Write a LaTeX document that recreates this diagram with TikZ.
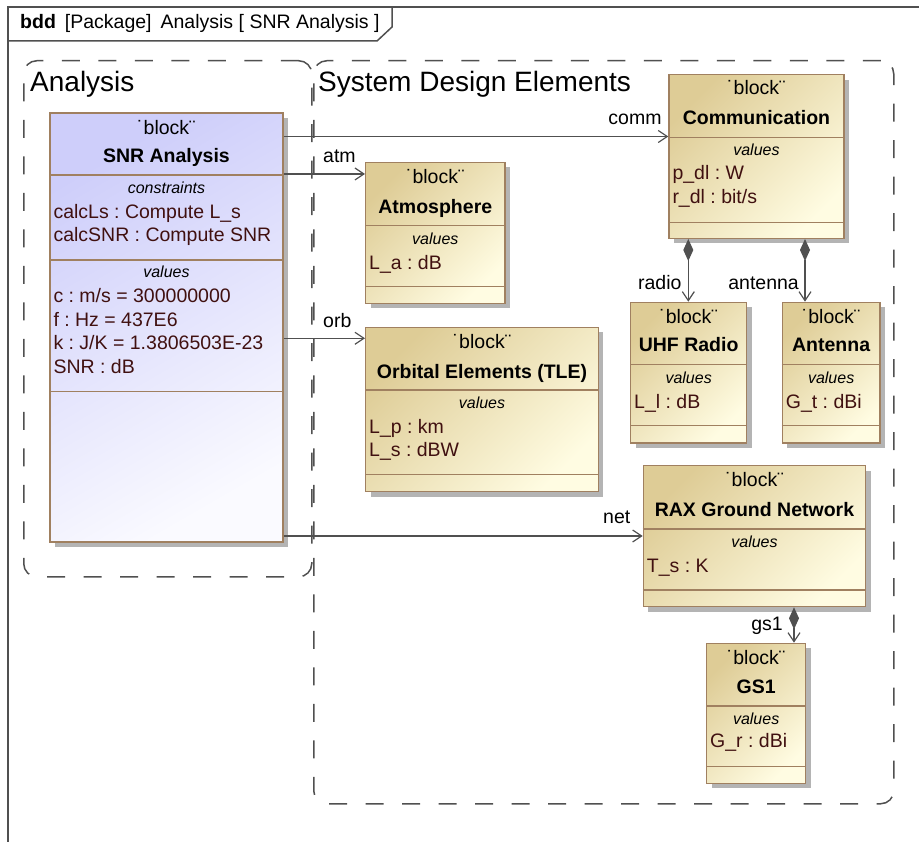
\documentclass[tikz,border=0pt]{standalone}
\usepackage{fontspec}
\setmainfont{Liberation Sans}
\usetikzlibrary{arrows.meta,shadows}
\definecolor{bordc}{RGB}{160,128,96}
\definecolor{snrA}{RGB}{206,206,250}
\definecolor{snrB}{RGB}{250,250,255}
\definecolor{yelA}{RGB}{222,204,150}
\definecolor{yelB}{RGB}{255,252,226}
\definecolor{featc}{RGB}{64,16,16}
\definecolor{linec}{RGB}{80,80,80}
\definecolor{shadc}{RGB}{180,180,180}
\newcommand\bodyf{\fontsize{19.5}{23.5}\selectfont}
\newcommand\titlef{\fontsize{16}{19}\selectfont}
\newcommand\pkgf{\fontsize{28}{33}\selectfont}
\newcommand\mkblk[6]{\node[blk,#2,minimum width={#5-#3},minimum height={#6-#4}] (#1) at (#3,#4) {};}
\newcommand\sepl[2]{\draw[sepline] (#1.west |- 0,#2) -- (#1.east |- 0,#2);}
\newcommand\ster[2]{\node[stereo] at (#1.north |- 0,#2) {˙block¨};}
\newcommand\bnm[3]{\node[bname] at (#1.north |- 0,#2) {#3};}
\newcommand\ctl[3]{\node[ctitle] at (#1.north |- 0,#2) {#3};}
\newcommand\ft[3]{\node[feat] at (#1.west |- 0,#2) {#3};}
\tikzset{
  blk/.style={draw=bordc, line width=1.3pt, anchor=north west, inner sep=0pt,
    drop shadow={shadow xshift=5pt, shadow yshift=-5pt, fill=shadc, opacity=1}},
  blue/.style={top color=snrA, bottom color=snrB, shading angle=30},
  yel/.style={top color=yelA, bottom color=yelB, shading angle=45},
  sepline/.style={draw=bordc, line width=1.3pt},
  stereo/.style={anchor=base, inner sep=0pt, font=\bodyf},
  bname/.style={anchor=base, inner sep=0pt, font=\bodyf\bfseries},
  ctitle/.style={anchor=base, inner sep=0pt, font=\titlef\itshape},
  feat/.style={anchor=base west, inner sep=0pt, xshift=4pt, font=\bodyf, text=featc},
  conn/.style={draw=linec, line width=1.2pt},
  arr/.style={-{Straight Barb[length=9pt,width=12pt]}},
  comp/.style={{Diamond[length=22pt,width=10pt]}-{Straight Barb[length=9pt,width=12pt]}},
  lbl/.style={inner sep=0pt, font=\bodyf},
  pkg/.style={draw=linec, line width=1.5pt, dash pattern=on 18pt off 18.5pt, rounded corners=13pt, anchor=north west, inner sep=0pt},
  frame/.style={draw=linec, line width=1.5pt},
}
\frenchspacing
\begin{document}
\frenchspacing
\begin{tikzpicture}[x=1pt,y=-1pt]
\useasboundingbox (0,0) rectangle (919,842);
% frame
\draw[frame] (8,842) -- (8,7) -- (919,7);
\draw[frame] (8,41) -- (377,41) -- (392,27) -- (392,7);
\node[anchor=base west, inner sep=0pt, font=\bodyf] (hdr) at (20,29) {{\bfseries bdd}\hspace{9pt}[Package]\hspace{9pt}Analysis [ SNR Analysis ]};
% packages
\node[pkg, minimum width=288pt, minimum height=516pt] (pkgA) at (23,60) {};
\node[pkg, minimum width=580pt, minimum height=743pt] (pkgS) at (313,60) {};
\node[anchor=base west, inner sep=0pt, font=\pkgf] (pkgAl) at (30,92) {Analysis};
\node[anchor=base west, inner sep=0pt, font=\pkgf] (pkgSl) at (318,92) {System Design Elements};
% SNR Analysis
\mkblk{snr}{blue}{49.3}{112.3}{282.3}{541.3}
\sepl{snr}{175}\sepl{snr}{260}\sepl{snr}{391.7}
\ster{snr}{135}
\bnm{snr}{163}{SNR Analysis}
\ctl{snr}{194}{constraints}
\ft{snr}{219}{calcLs : Compute L\_s}
\ft{snr}{242}{calcSNR : Compute SNR}
\ctl{snr}{278}{values}
\ft{snr}{303}{c : m/s = 300000000}
\ft{snr}{327}{f : Hz = 437E6}
\ft{snr}{350}{k : J/K = 1.3806503E-23}
\ft{snr}{374}{SNR : dB}
% Communication
\mkblk{commu}{yel}{668.3}{74}{843.3}{237.7}
\sepl{commu}{137.3}\sepl{commu}{222.3}
\ster{commu}{95}
\bnm{commu}{125}{Communication}
\ctl{commu}{155.7}{values}
\ft{commu}{180}{p\_dl : W}
\ft{commu}{204}{r\_dl : bit/s}
% Atmosphere
\mkblk{atmo}{yel}{365}{161.7}{504.3}{302.7}
\sepl{atmo}{225.7}\sepl{atmo}{286.7}
\ster{atmo}{184}
\bnm{atmo}{213.3}{Atmosphere}
\ctl{atmo}{245}{values}
\ft{atmo}{270}{L\_a : dB}
% Orbital Elements
\mkblk{orbit}{yel}{365}{326.7}{597.7}{491}
\sepl{orbit}{390}\sepl{orbit}{474.3}
\ster{orbit}{348.3}
\bnm{orbit}{378.3}{Orbital Elements (TLE)}
\ctl{orbit}{408.3}{values}
\ft{orbit}{434}{L\_p : km}
\ft{orbit}{456.7}{L\_s : dBW}
% UHF Radio
\mkblk{uhf}{yel}{630}{301.7}{746}{442.3}
\sepl{uhf}{364.3}\sepl{uhf}{425.7}
\ster{uhf}{323.3}
\bnm{uhf}{351.7}{UHF Radio}
\ctl{uhf}{383.3}{values}
\ft{uhf}{408.3}{L\_l : dB}
% Antenna
\mkblk{ant}{yel}{781.7}{301.7}{879.3}{442.3}
\sepl{ant}{364.3}\sepl{ant}{425.7}
\ster{ant}{323.3}
\bnm{ant}{351.7}{Antenna}
\ctl{ant}{383.3}{values}
\ft{ant}{408.3}{G\_t : dBi}
% RAX Ground Network
\mkblk{rax}{yel}{642.7}{465}{865}{606}
\sepl{rax}{529}\sepl{rax}{590}
\ster{rax}{486.7}
\bnm{rax}{516.7}{RAX Ground Network}
\ctl{rax}{547.3}{values}
\ft{rax}{572.7}{T\_s : K}
% GS1
\mkblk{gsone}{yel}{706}{642.7}{805}{782.7}
\sepl{gsone}{706}\sepl{gsone}{766.7}
\ster{gsone}{664}
\bnm{gsone}{693.3}{GS1}
\ctl{gsone}{724}{values}
\ft{gsone}{747.7}{G\_r : dBi}
% connectors
\coordinate (ycomm) at (0,136.5);
\coordinate (yatm) at (0,174);
\coordinate (yorb) at (0,338.3);
\coordinate (ynet) at (0,536);
\coordinate (xradio) at (688.3,0);
\coordinate (xant) at (805,0);
\coordinate (xgs) at (794,0);
\draw[conn,arr] (snr.east |- ycomm) -- (commu.west |- ycomm);
\draw[conn,arr] (snr.east |- yatm) -- (atmo.west |- yatm);
\draw[conn,arr] (snr.east |- yorb) -- (orbit.west |- yorb);
\draw[conn,arr] (snr.east |- ynet) -- (rax.west |- ynet);
\draw[conn,comp,fill=linec] (xradio |- commu.south) -- (xradio |- uhf.north);
\draw[conn,comp,fill=linec] (xant |- commu.south) -- (xant |- ant.north);
\draw[conn,comp,fill=linec] (xgs |- rax.south) -- (xgs |- gsone.north);
% labels
\node[lbl, anchor=base east] (lcomm) at (661.7,125) {comm};
\node[lbl, anchor=base west] (latm) at (323,163) {atm};
\node[lbl, anchor=base west] (lorb) at (323,328) {orb};
\node[lbl, anchor=base west] (lnet) at (603,523) {net};
\node[lbl, anchor=base east] (lradio) at (681.7,290) {radio};
\node[lbl, anchor=base east] (lant) at (799,290) {antenna};
\node[lbl, anchor=base east] (lgs) at (783,630) {gs1};
\end{tikzpicture}
\end{document}
